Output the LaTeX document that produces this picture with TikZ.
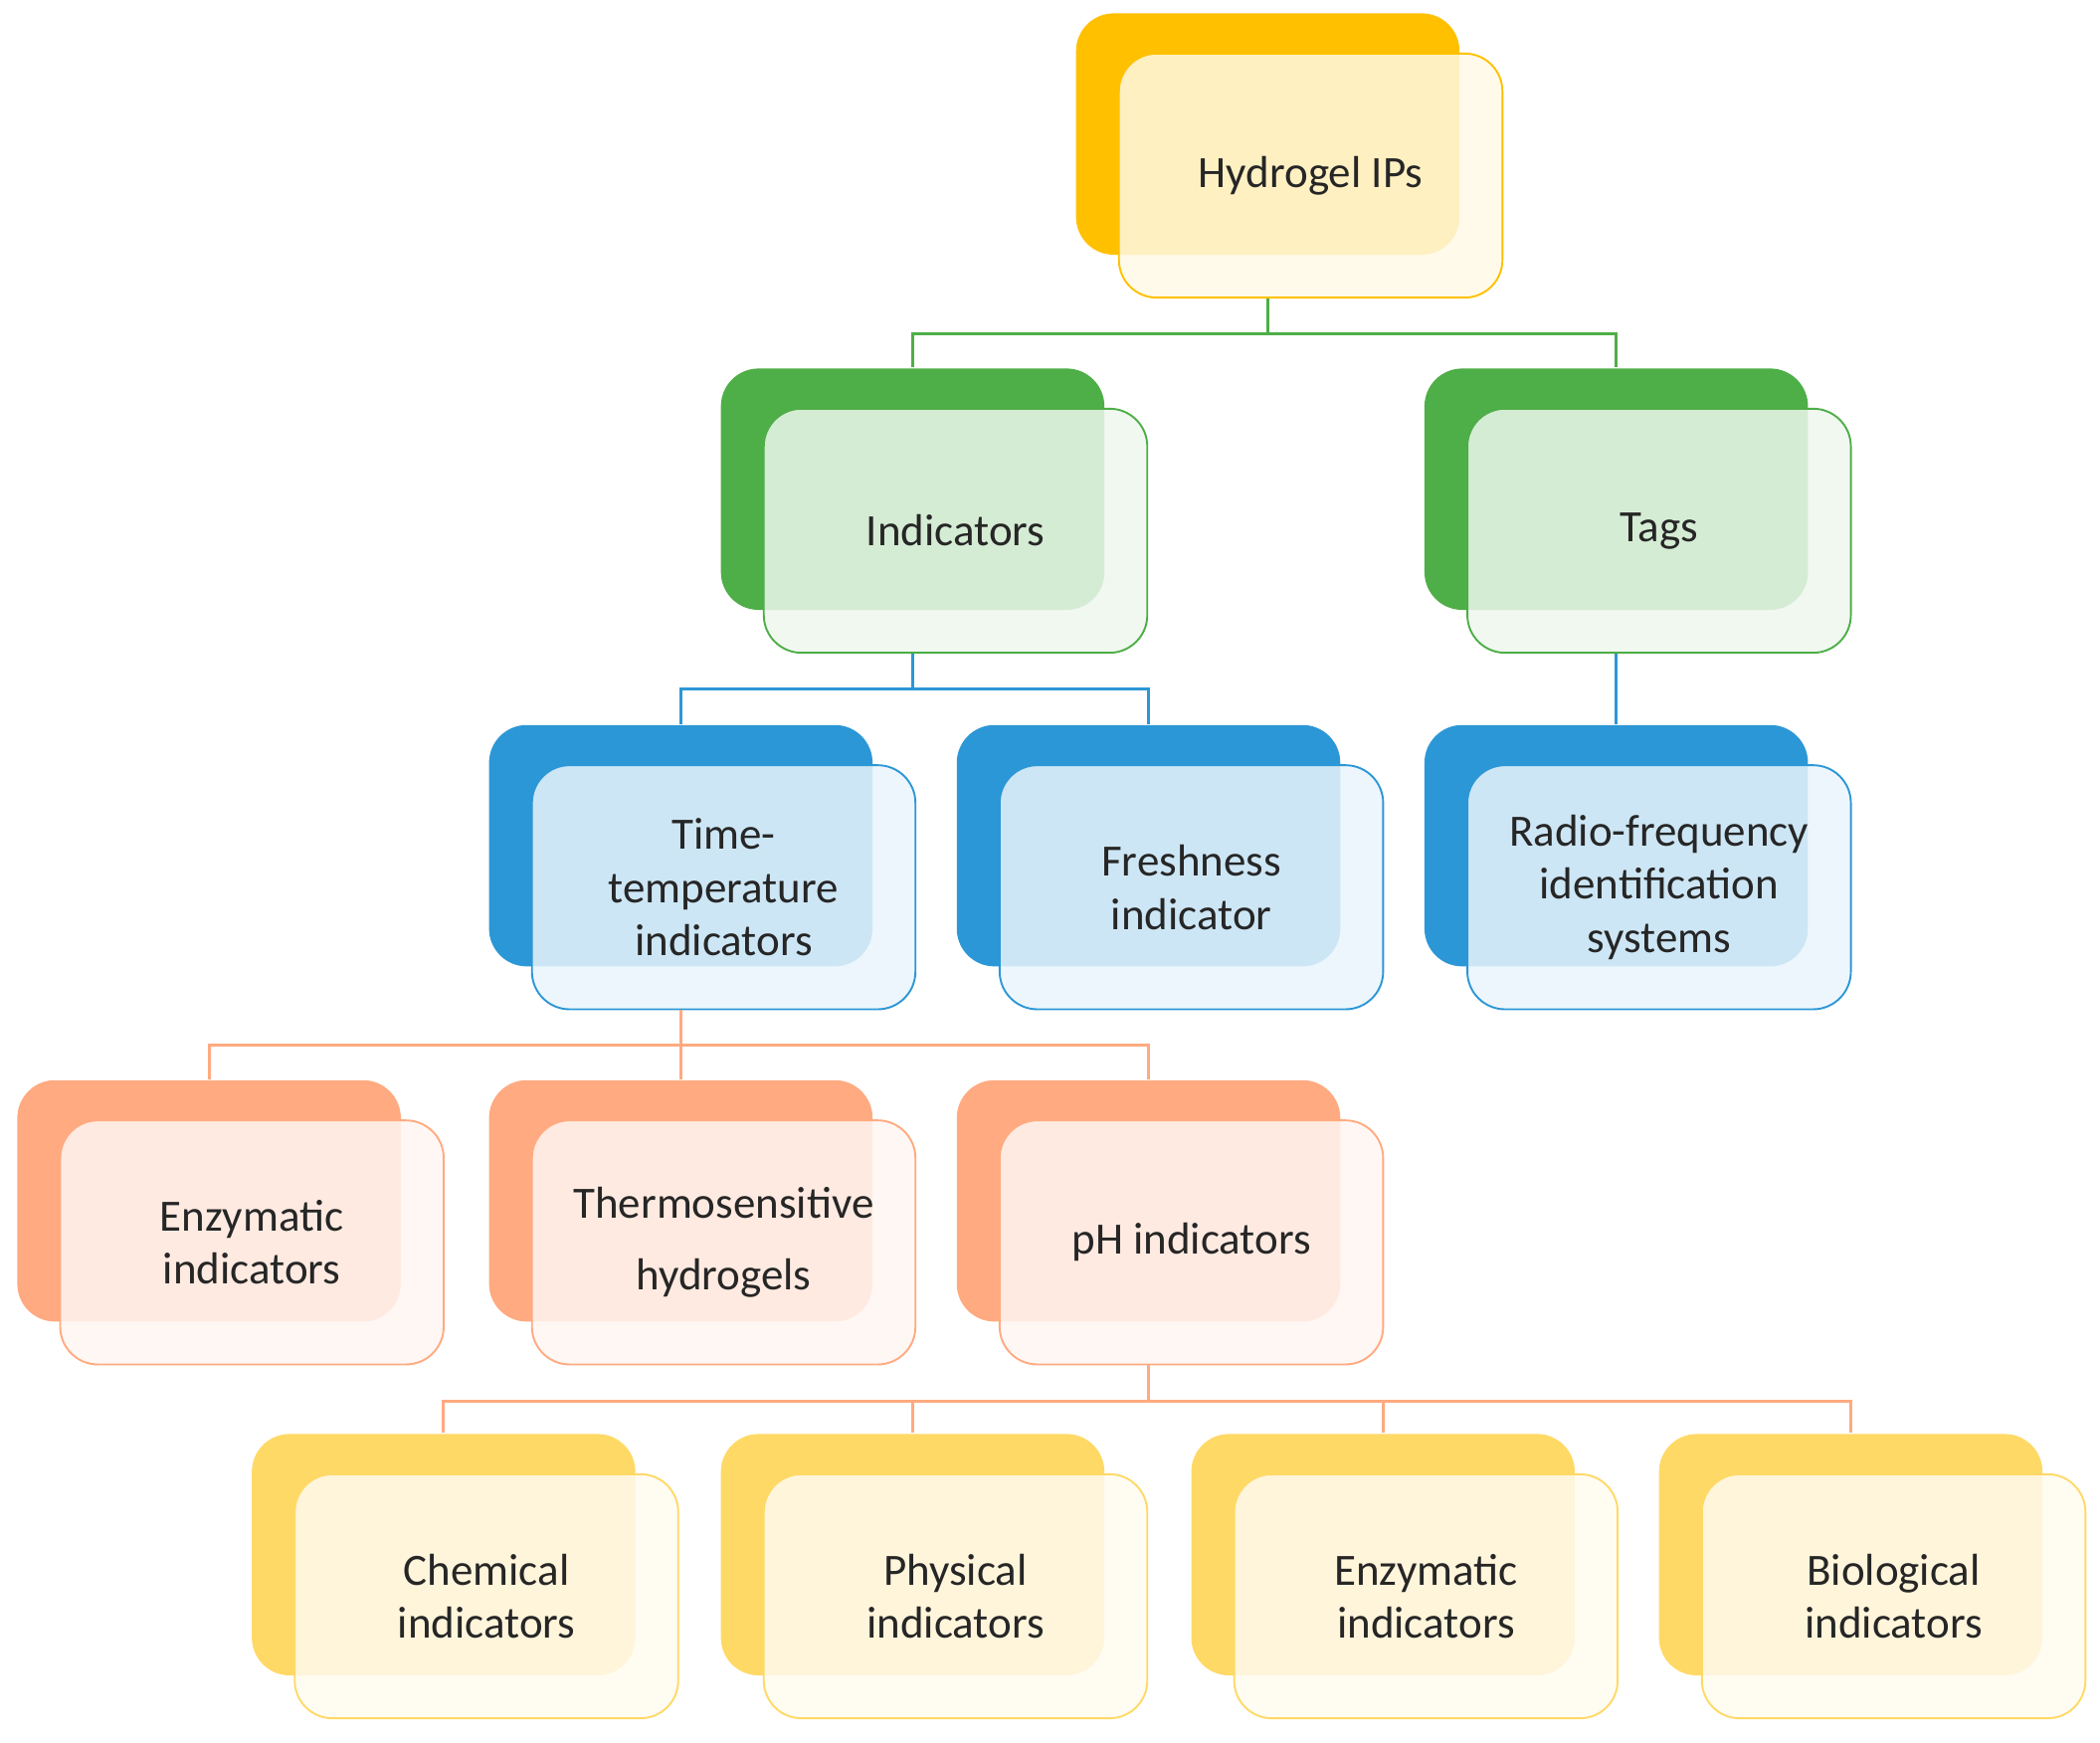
\documentclass[tikz,border=0pt]{standalone}
\usepackage{fontspec}
\setmainfont{Carlito}
\usetikzlibrary{positioning}
\definecolor{ipgold}{HTML}{FFC000}
\definecolor{ipgreen}{HTML}{4EAE47}
\definecolor{ipblue}{HTML}{2C97D6}
\definecolor{iporange}{HTML}{FFAA80}
\definecolor{ipyellow}{HTML}{FFD966}
\tikzset{
  back/.style={rounded corners=8pt, fill=#1, minimum width=2.86cm, minimum height=1.8cm, inner sep=0pt},
  front/.style={rounded corners=8pt, draw=#1, fill=#1!10, fill opacity=0.85, text opacity=1,
    minimum width=2.86cm, minimum height=1.82cm, align=center, inner sep=0pt,
    font=\fontsize{9.5}{11.3}\selectfont, text=black!85},
  link/.style={draw=#1, line width=0.6pt}
}
% one box: name, x, y (top left of the back box), colour, text
\newcommand\ipbox[5]{%
  \node[back=#4] (#1) at (#2+143,#3+90) {};
  \node[front=#4] (#1f) at (#2+175,#3+121) {#5};
}
\begin{document}
\begin{tikzpicture}[x=0.01cm,y=-0.01cm]
\useasboundingbox (0,0) rectangle (1567,1300);

% level 1 and 2
\ipbox{hip}{803}{10}{ipgold}{Hydrogel IPs}
\ipbox{ind}{538}{275}{ipgreen}{Indicators}
\ipbox{tag}{1063}{275}{ipgreen}{Tags}

% level 3
\ipbox{tti}{365}{541}{ipblue}{Time-\\temperature\\indicators}
\ipbox{fre}{714}{541}{ipblue}{Freshness\\indicator}
\ipbox{rfid}{1063}{541}{ipblue}{Radio-frequency\\identification\\systems}

% level 4
\ipbox{enz}{13}{806}{iporange}{Enzymatic\\indicators}
\ipbox{the}{365}{806}{iporange}{Thermosensitive\\[4pt]hydrogels}
\ipbox{ph}{714}{806}{iporange}{pH indicators}

% level 5
\ipbox{che}{188}{1070}{ipyellow}{Chemical\\indicators}
\ipbox{phy}{538}{1070}{ipyellow}{Physical\\indicators}
\ipbox{enzb}{889}{1070}{ipyellow}{Enzymatic\\indicators}
\ipbox{bio}{1238}{1070}{ipyellow}{Biological\\indicators}

% connectors
\draw[link=ipgreen] (hip.center |- hipf.south) -- ++(0,26) coordinate (j1);
\draw[link=ipgreen] (ind.north) |- (j1) -| (tag.north);
\draw[link=ipblue] (ind.center |- indf.south) -- ++(0,26) coordinate (j2);
\draw[link=ipblue] (tti.north) |- (j2) -| (fre.north);
\draw[link=ipblue] (tag.center |- tagf.south) -- (rfid.north);
\draw[link=iporange] (tti.center |- ttif.south) -- ++(0,26) coordinate (j3);
\draw[link=iporange] (enz.north) |- (j3) -| (ph.north);
\draw[link=iporange] (j3) -- (the.north);
\draw[link=iporange] (ph.center |- phf.south) -- ++(0,27) coordinate (j4);
\draw[link=iporange] (che.north) |- (j4) -| (bio.north);
\draw[link=iporange] (phy.north) -- (phy.north |- j4);
\draw[link=iporange] (enzb.north) -- (enzb.north |- j4);
\end{tikzpicture}
\end{document}
